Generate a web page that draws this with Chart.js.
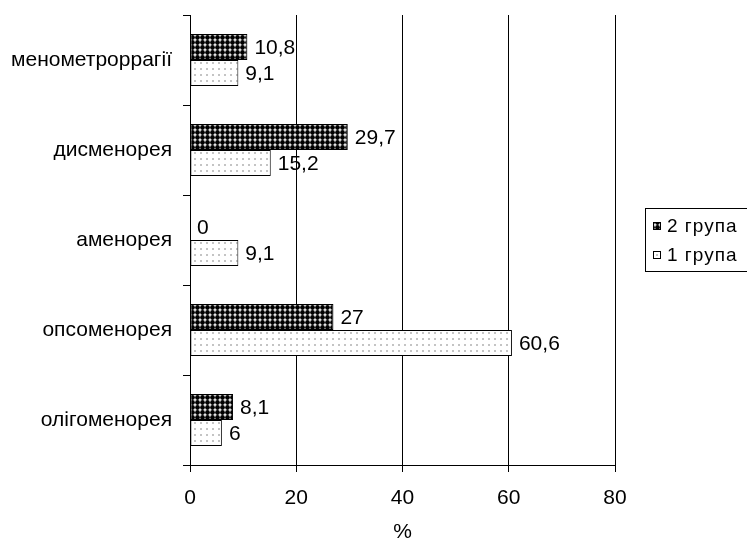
<!DOCTYPE html>
<html>
<head>
<meta charset="utf-8">
<script src="https://cdn.jsdelivr.net/npm/chart.js@4"></script>
<style>
  html,body{margin:0;padding:0;background:#fff;}
  #wrap{width:747px;height:539px;position:relative;}
</style>
</head>
<body>
<div id="wrap"><canvas id="chart" width="747" height="539"></canvas></div>
<script>
// chart data
const categories = ['менометроррагії', 'дисменорея', 'аменорея', 'опсоменорея', 'олігоменорея'];
const group2 = [10.8, 29.7, 0, 27, 8.1];
const group1 = [9.1, 15.2, 9.1, 60.6, 6];
const seriesNames = ['2 група', '1 група'];
const xTicks = [0, 20, 40, 60, 80];

const FONT = 'Liberation Sans, Arial, sans-serif';

// fill patterns
function darkPattern(){
    const c=document.createElement('canvas'); c.width=5; c.height=5;
    const g=c.getContext('2d');
    g.fillStyle='#fff'; g.fillRect(0,0,5,5);
    g.fillStyle='#000';
    g.beginPath(); g.arc(2.5,2.5,2.4,0,Math.PI*2); g.fill();
    return g.createPattern(c,'repeat');
}
function lightPattern(){
    const c=document.createElement('canvas'); c.width=6; c.height=6;
    const g=c.getContext('2d');
    g.fillStyle='#fff'; g.fillRect(0,0,6,6);
    g.fillStyle='#c4c4c4'; g.fillRect(2,2,2,2);
    return g.createPattern(c,'repeat');
}

// value labels with comma decimal
const valueLabels={
    id:'valueLabels',
    afterDatasetsDraw(chart){
        const ctx=chart.ctx;
        ctx.save();
        ctx.font='21px '+FONT;
        ctx.fillStyle='#000';
        ctx.textBaseline='middle';
        chart.data.datasets.forEach((ds,i)=>{
            chart.getDatasetMeta(i).data.forEach((bar,j)=>{
                const txt=String(ds.data[j]).replace('.',',');
                ctx.fillText(txt,bar.x+7,bar.y+1);
            });
        });
        ctx.restore();
    }
};

// legend box on the right
const sideLegend={
    id:'sideLegend',
    afterDraw(chart){
        const ctx=chart.ctx;
        const pats=[darkPattern(),lightPattern()];
        ctx.save();
        ctx.strokeStyle='#000'; ctx.lineWidth=1;
        ctx.strokeRect(645.5,208.5,110,63);
        ctx.font='19px '+FONT;
        ctx.letterSpacing='1px';
        ctx.textBaseline='middle';
        seriesNames.forEach((n,i)=>{
            const y=226+i*29;
            ctx.fillStyle=pats[i];
            ctx.fillRect(653,y-4,8,8);
            ctx.strokeRect(653.5,y-3.5,7,7);
            ctx.fillStyle='#000';
            ctx.fillText(n,667,y+1);
        });
        ctx.restore();
    }
};

new Chart(document.getElementById('chart').getContext('2d'),{
    type:'bar',
    data:{
        labels:categories,
        datasets:[
            {label:seriesNames[0],data:group2,backgroundColor:darkPattern(),borderColor:'#000',borderWidth:1,borderSkipped:false,categoryPercentage:0.58,barPercentage:1},
            {label:seriesNames[1],data:group1,backgroundColor:lightPattern(),borderColor:'#000',borderWidth:1,borderSkipped:false,categoryPercentage:0.58,barPercentage:1}
        ]
    },
    options:{
        indexAxis:'y',
        responsive:false,
        animation:false,
        layout:{padding:{top:15,right:132,left:0,bottom:0}},
        plugins:{legend:{display:false},tooltip:{enabled:false}},
        scales:{
            x:{
                min:0,max:80,
                afterBuildTicks(s){s.ticks=xTicks.map(v=>({value:v}));},
                afterFit(s){s.height=74;s.paddingLeft=0;s.paddingRight=0;},
                grid:{color:'#000',lineWidth:1,tickLength:7,drawTicks:true},
                border:{color:'#000'},
                ticks:{color:'#000',font:{size:21,family:FONT},padding:14},
                title:{display:true,text:'%',color:'#000',font:{size:21,family:FONT},padding:{top:8,bottom:-6}}
            },
            y:{
                afterFit(s){s.width=190;s.paddingTop=0;s.paddingBottom=0;},
                grid:{drawOnChartArea:false,color:'#000',tickLength:7,offset:true},
                border:{color:'#000'},
                ticks:{color:'#000',font:{size:21,family:FONT},padding:11}
            }
        }
    },
    plugins:[valueLabels,sideLegend]
});
</script>
</body>
</html>
